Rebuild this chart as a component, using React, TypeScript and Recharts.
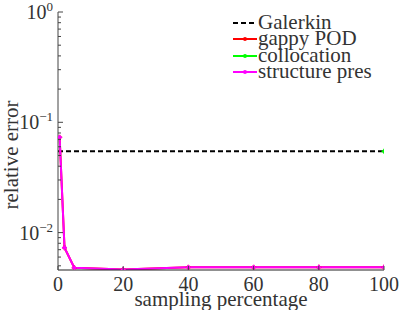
import React from 'react';
import { ComposedChart, Line, XAxis, YAxis } from 'recharts';

const samplingPct = [0.5, 2, 5, 20, 40, 60, 80, 100];
const structurePresErr = [0.073, 0.0073, 0.0048, 0.00463, 0.00484, 0.00484, 0.00484, 0.00484];
const gappyPodErr = [0.073, 0.0073, 0.0048, 0.00463, 0.00484, 0.00484, 0.00484, 0.00484];
const galerkinPct = [0, 100];
const galerkinErr = [0.0545, 0.0545];
const collocationPct = [100];
const collocationErr = [0.0545];

const xTicks = [0, 20, 40, 60, 80, 100];
const majorY = [0.01, 0.1, 1];
const yTicks = [
  0.005, 0.006, 0.007, 0.008, 0.009, 0.01,
  0.02, 0.03, 0.04, 0.05, 0.06, 0.07, 0.08, 0.09, 0.1,
  0.2, 0.3, 0.4, 0.5, 0.6, 0.7, 0.8, 0.9, 1,
];
const yExp: Record<string, string> = { '0.01': '\u22122', '0.1': '\u22121', '1': '0' };

const zip = (xs: number[], ys: number[]) => xs.map((x, i) => ({ x, y: ys[i] }));
const structData = zip(samplingPct, structurePresErr);
const gappyData = zip(samplingPct, gappyPodErr);
const galerkinData = zip(galerkinPct, galerkinErr);
const collocData = zip(collocationPct, collocationErr);

const FONT = '"Liberation Serif", "DejaVu Serif", serif';
const TXT = '#333';
const FRAME = '#444';

const isMajor = (v: number) => majorY.some((m) => Math.abs(m - v) < 1e-9);

const LeftTick = (p: any) => {
  const v = p.payload.value;
  const major = isMajor(v);
  return (
    <g>
      <line x1={p.x} x2={p.x + (major ? 5 : 3)} y1={p.y} y2={p.y} stroke={FRAME} strokeWidth={1} />
      {major && (
        <text x={p.x - 5} y={p.y + 7} textAnchor="end" fontFamily={FONT} fill={TXT} fontSize={20}>
          10
          <tspan dy={-8} fontSize={13}>{yExp[String(v)]}</tspan>
        </text>
      )}
    </g>
  );
};

const RightTick = (p: any) => {
  const v = p.payload.value;
  const major = isMajor(v);
  return <line x1={p.x} x2={p.x - (major ? 5 : 3)} y1={p.y} y2={p.y} stroke={FRAME} strokeWidth={1} />;
};

const BottomTick = (p: any) => (
  <g>
    <line x1={p.x} x2={p.x} y1={p.y} y2={p.y - 4} stroke={FRAME} strokeWidth={1} />
    <text x={p.x} y={p.y + 21} textAnchor="middle" fontFamily={FONT} fill={TXT} fontSize={20}>
      {p.payload.value}
    </text>
  </g>
);

const TopTick = (p: any) => (
  <line x1={p.x} x2={p.x} y1={p.y} y2={p.y + 4} stroke={FRAME} strokeWidth={1} />
);

const Marker = (color: string) => (p: any) => {
  if (p.cx == null || p.cy == null) return <g key={p.index} />;
  return (
    <g key={p.index}>
      <line x1={p.cx - 2.5} x2={p.cx + 2.5} y1={p.cy} y2={p.cy} stroke={color} strokeWidth={1.5} />
      <line x1={p.cx} x2={p.cx} y1={p.cy - 2.5} y2={p.cy + 2.5} stroke={color} strokeWidth={1.5} />
      <circle cx={p.cx} cy={p.cy} r={1.8} fill={color} />
    </g>
  );
};

const legendItems = [
  { label: 'Galerkin', color: '#000', dashed: true, marker: false },
  { label: 'gappy POD', color: '#ff0000', dashed: false, marker: true },
  { label: 'collocation', color: '#00ff00', dashed: false, marker: true },
  { label: 'structure pres', color: '#ff00ff', dashed: false, marker: true },
];

export default function App() {
  return (
    <div style={{ position: 'absolute', left: 0, top: 0, width: 399, height: 310, background: '#fff' }}>
      <ComposedChart width={399} height={310} margin={{ top: 12, right: 15, bottom: 0, left: 0 }}>
        <XAxis
          xAxisId="b"
          type="number"
          dataKey="x"
          domain={[0, 100]}
          ticks={xTicks}
          interval={0}
          tickSize={0}
          tickMargin={0}
          tick={BottomTick}
          height={40}
          stroke="#222"
          allowDataOverflow
          label={{
            content: (props: any) => {
              const vb = props.viewBox;
              return (
                <text x={vb.x + vb.width / 2} y={vb.y + 36} textAnchor="middle" fontFamily={FONT} fill={TXT} fontSize={21}>
                  sampling percentage
                </text>
              );
            },
          }}
        />
        <XAxis
          xAxisId="t"
          orientation="top"
          type="number"
          dataKey="x"
          domain={[0, 100]}
          ticks={xTicks}
          interval={0}
          tickSize={0}
          tickMargin={0}
          tick={TopTick}
          height={0}
          stroke={FRAME}
          allowDataOverflow
        />
        <YAxis
          yAxisId="l"
          type="number"
          scale="log"
          domain={[0.00458, 1]}
          ticks={yTicks}
          interval={0}
          tickSize={0}
          tickMargin={0}
          tick={LeftTick}
          width={58}
          stroke={FRAME}
          allowDataOverflow
          label={{
            content: (props: any) => {
              const vb = props.viewBox;
              const cy = vb.y + vb.height / 2 + 14;
              return (
                <text x={18} y={cy} textAnchor="middle" fontFamily={FONT} fill={TXT} fontSize={21} transform={`rotate(-90 18 ${cy})`}>
                  relative error
                </text>
              );
            },
          }}
        />
        <YAxis
          yAxisId="r"
          orientation="right"
          type="number"
          scale="log"
          domain={[0.00458, 1]}
          ticks={yTicks}
          interval={0}
          tickSize={0}
          tickMargin={0}
          tick={RightTick}
          width={0}
          stroke={FRAME}
          allowDataOverflow
        />
        <Line
          xAxisId="b"
          yAxisId="l"
          data={galerkinData}
          dataKey="y"
          stroke="#000"
          strokeWidth={2}
          strokeDasharray="5 3"
          dot={false}
          isAnimationActive={false}
        />
        <Line
          xAxisId="b"
          yAxisId="l"
          data={collocData}
          dataKey="y"
          stroke="#00ff00"
          strokeWidth={2}
          dot={Marker('#00ff00')}
          isAnimationActive={false}
        />
        <Line
          xAxisId="b"
          yAxisId="l"
          data={gappyData}
          dataKey="y"
          stroke="#ff0000"
          strokeWidth={2}
          dot={Marker('#ff0000')}
          isAnimationActive={false}
        />
        <Line
          xAxisId="b"
          yAxisId="l"
          data={structData}
          dataKey="y"
          stroke="#ff00ff"
          strokeWidth={2}
          dot={Marker('#ff00ff')}
          isAnimationActive={false}
        />
      </ComposedChart>
      <div
        style={{
          position: 'absolute',
          left: 226,
          top: 13,
          width: 156,
          height: 70,
          background: '#fff',
          fontFamily: FONT,
          fontSize: 21,
          color: TXT,
        }}
      >
        {legendItems.map((it, i) => (
          <div key={it.label} style={{ position: 'absolute', left: 0, top: i * 16.3 + 1, height: 16, whiteSpace: 'nowrap', lineHeight: '16px' }}>
            <svg width={32} height={16} style={{ position: 'absolute', left: 4, top: 0 }}>
              <line x1={3} x2={27} y1={9} y2={9} stroke={it.color} strokeWidth={2} strokeDasharray={it.dashed ? '5 3' : undefined} />
              {it.marker && <circle cx={15} cy={9} r={2} fill={it.color} />}
            </svg>
            <span style={{ position: 'absolute', left: 32 }}>{it.label}</span>
          </div>
        ))}
      </div>
    </div>
  );
}
